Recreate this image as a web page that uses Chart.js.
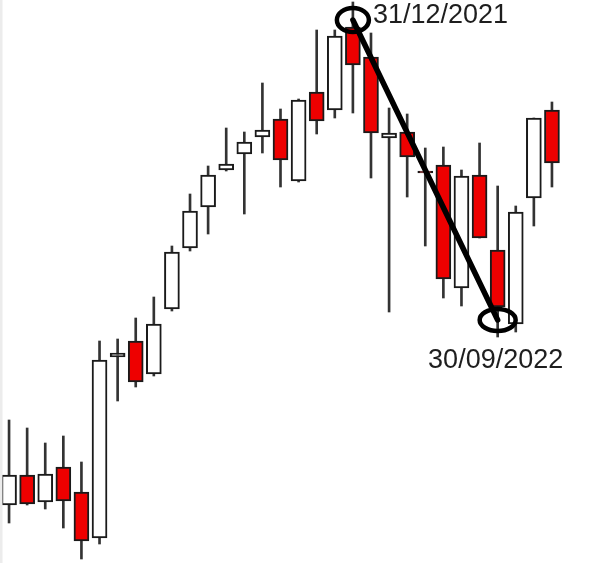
<!DOCTYPE html>
<html>
<head>
<meta charset="utf-8">
<script src="https://cdn.jsdelivr.net/npm/chart.js@4.4.1/dist/chart.umd.min.js"></script>
<style>
  html, body { margin: 0; padding: 0; background: #fff; }
  #wrap { width: 605px; height: 563px; position: relative; }
</style>
</head>
<body>
<div id="wrap"><canvas id="candles"></canvas></div>
<script>
// monthly candles (arbitrary price units)
labels = ['1','2','3','4','5','6','7','8','9','10','11','12','13','14','15','16',
          '17','18','19','20','21','22','23','24','25','26','27','28','29','30','31']
opens  = [95, 125, 98, 133, 108, 62, 243, 259, 226, 291, 352, 393, 430, 446, 463, 481,
          419, 508, 490, 573, 543, 462, 468, 429, 435, 312, 425, 350, 276, 402, 490]
closes = [125, 96, 126, 99, 59, 240, 247, 218, 276, 348, 389, 425, 436, 458, 470, 440,
          500, 479, 564, 535, 467, 467, 443, 427, 321, 424, 362, 293, 388, 482, 437]
highs  = [180, 172, 157, 164, 138, 259, 261, 282, 303, 354, 406, 434, 472, 468, 517, 491,
          501, 570, 570, 598, 567, 492, 486, 452, 453, 430, 457, 414, 394, 482, 498]
lows   = [77, 95, 91, 72, 41, 56, 199, 213, 224, 289, 349, 366, 429, 386, 447, 413,
          418, 466, 482, 487, 422, 288, 403, 354, 302, 294, 362, 263, 268, 374, 413]

// the two marked points: candle index, price, caption
markIdx  = [19, 27]
markVal  = [580, 280]
markText = ['31/12/2021', '30/09/2022']

bodies = []
wicks = []
bodyColors = []
for (var i = 0; i < labels.length; i++) {
    bodies.push([opens[i], closes[i]]);
    wicks.push([lows[i], highs[i]]);
    bodyColors.push(closes[i] >= opens[i] ? '#ffffff' : 'rgb(238, 0, 0)');
}

annotate = {
    id: 'annotate',
    afterDatasetsDraw(chart) {
        var ctx = chart.ctx;
        var xs = chart.scales.x, ys = chart.scales.y;
        var pts = markIdx.map((m, k) => ({
            x: xs.getPixelForValue(m),
            y: ys.getPixelForValue(markVal[k])
        }));
        ctx.save();
        // grey strip on the left edge
        ctx.fillStyle = '#ececec';
        ctx.fillRect(0, 0, 2.5, chart.height);

        ctx.strokeStyle = '#000';
        ctx.lineCap = 'round';
        ctx.lineWidth = 5.5;
        ctx.beginPath();
        ctx.moveTo(pts[0].x, pts[0].y);
        ctx.lineTo(pts[1].x, pts[1].y);
        ctx.stroke();

        ctx.lineWidth = 4.5;
        ctx.beginPath();
        ctx.ellipse(pts[0].x, pts[0].y, 16, 12, 0, 0, Math.PI * 2);
        ctx.stroke();
        ctx.beginPath();
        ctx.ellipse(pts[1].x, pts[1].y, 18, 11, 0, 0, Math.PI * 2);
        ctx.stroke();

        ctx.fillStyle = '#1e1e1e';
        ctx.font = '27px "Liberation Sans", Arial, sans-serif';
        ctx.textBaseline = 'alphabetic';
        ctx.textAlign = 'left';
        ctx.fillText(markText[0], pts[0].x + 20, pts[0].y + 3);
        ctx.textAlign = 'center';
        ctx.fillText(markText[1], pts[1].x - 2, pts[1].y + 48);
        ctx.restore();
    }
};

chartdata = {
    labels: labels,
    datasets: [{
        label: 'wicks',
        data: wicks,
        backgroundColor: '#333333',
        borderWidth: 0,
        barThickness: 2,
        grouped: false,
        order: 2
    }, {
        label: 'bodies',
        data: bodies,
        backgroundColor: bodyColors,
        borderColor: '#1a1a1a',
        borderWidth: 2,
        borderSkipped: false,
        barThickness: 15,
        grouped: false,
        order: 1
    }]
};

config = {
    type: 'bar',
    data: chartdata,
    options: {
        responsive: true,
        maintainAspectRatio: false,
        animation: false,
        layout: { padding: { left: 0, right: 44, top: 0, bottom: 0 } },
        plugins: { legend: { display: false }, tooltip: { enabled: false } },
        scales: {
            x: { display: false, offset: true },
            y: { display: false, min: 37, max: 600 }
        }
    },
    plugins: [annotate]
};

var myChart = new Chart(document.getElementById('candles'), config);
</script>
</body>
</html>
